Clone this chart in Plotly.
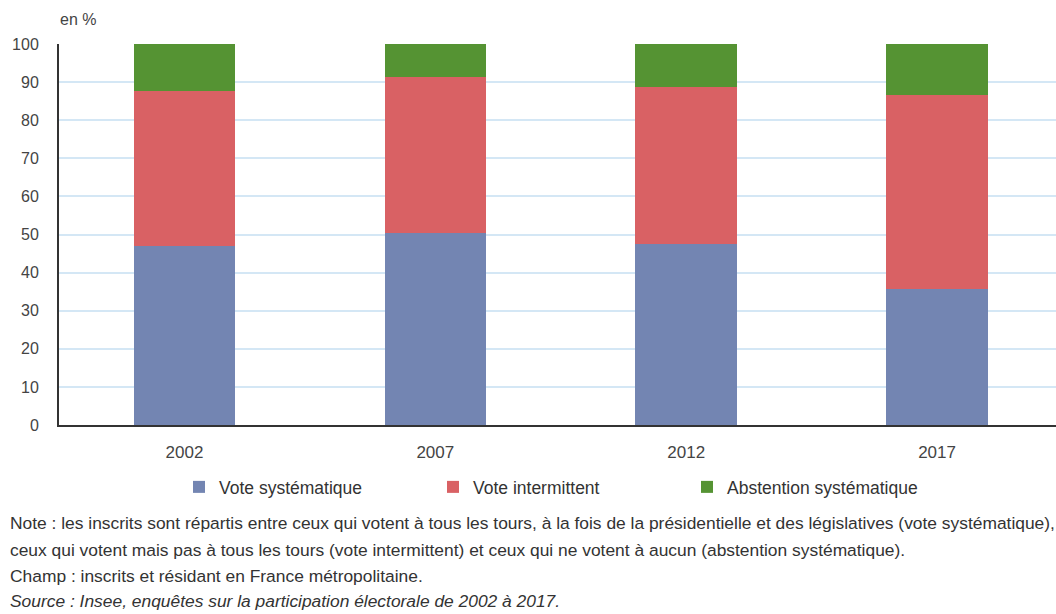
import plotly.graph_objects as go

years = ["2002", "2007", "2012", "2017"]
vote_systematique = [47.0, 50.4, 47.4, 35.8]
vote_intermittent = [40.6, 40.9, 41.4, 50.7]
abstention_systematique = [12.4, 8.7, 11.2, 13.5]

series_names = ["Vote systématique", "Vote intermittent", "Abstention systématique"]
series_colors = ["#7385b2", "#d96164", "#559333"]
y_ticks = [0, 10, 20, 30, 40, 50, 60, 70, 80, 90, 100]

notes = [
    "Note : les inscrits sont répartis entre ceux qui votent à tous les tours, à la fois de la présidentielle et des législatives (vote systématique),",
    "ceux qui votent mais pas à tous les tours (vote intermittent) et ceux qui ne votent à aucun (abstention systématique).",
    "Champ : inscrits et résidant en France métropolitaine.",
    "<i>Source : Insee, enquêtes sur la participation électorale de 2002 à 2017.</i>",
]

FONT = "Liberation Sans, Arial, sans-serif"
W, H = 1056, 614
ML, MR, MT, MB = 59, 0, 44, 189
plot_w = W - ML - MR
plot_h = H - MT - MB

fig = go.Figure()
for name, vals, col in zip(series_names,
                           [vote_systematique, vote_intermittent, abstention_systematique],
                           series_colors):
    fig.add_trace(go.Bar(x=years, y=vals, name=name, marker=dict(color=col, line=dict(width=0)),
                         width=0.405))

fig.update_layout(
    width=W, height=H,
    margin=dict(l=ML, r=MR, t=MT, b=MB),
    barmode="stack",
    plot_bgcolor="white", paper_bgcolor="white",
    font=dict(family=FONT, size=16, color="#444444"),
    showlegend=True,
    legend=dict(orientation="h", x=(193 - 14 - ML) / plot_w, xanchor="left",
                y=(H - MB - 487) / plot_h, yanchor="middle",
                entrywidth=209, entrywidthmode="pixels",
                font=dict(family=FONT, size=17.5, color="#333333"),
                traceorder="normal"),
    xaxis=dict(type="category", range=[-0.5, 3.5 - 6.5 / 251], showgrid=False,
               showline=True, linecolor="#333333", linewidth=2, ticks="",
               tickfont=dict(size=17, color="#444444"), ticklabelstandoff=11),
    yaxis=dict(range=[0, 100], tickvals=y_ticks, showgrid=True, gridcolor="#d4e7f5",
               gridwidth=1.5, showline=True, linecolor="#333333", linewidth=2,
               ticks="", zeroline=False, tickfont=dict(size=16, color="#444444"),
               ticklabelstandoff=15),
)

fig.add_annotation(text="en %", xref="paper", yref="paper", x=(58 - ML) / plot_w, y=1.0,
                   xanchor="left", yanchor="bottom", yshift=14, showarrow=False,
                   font=dict(size=16, color="#444444"))

note_y = [523, 550, 576, 601]
for txt, yy in zip(notes, note_y):
    fig.add_annotation(text=txt, xref="paper", yref="paper",
                       x=(8 - ML) / plot_w, y=(H - MB - yy) / plot_h,
                       xanchor="left", yanchor="middle", showarrow=False,
                       font=dict(size=17.4, color="#333333"))

fig.write_html("out.html")
